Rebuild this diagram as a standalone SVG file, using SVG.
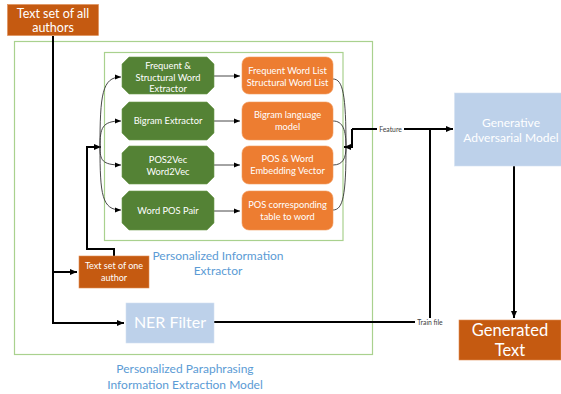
<svg xmlns="http://www.w3.org/2000/svg" width="561" height="394" viewBox="0 0 561 394">
<defs>
<marker id="ah" markerWidth="8" markerHeight="8" refX="7" refY="4" orient="auto" markerUnits="userSpaceOnUse"><path d="M0,1 L7,4 L0,7 z" fill="#000"/></marker>
<marker id="ahs" markerWidth="7" markerHeight="6" refX="6" refY="3" orient="auto" markerUnits="userSpaceOnUse"><path d="M0,0.5 L6,3 L0,5.5 z" fill="#000"/></marker>
<style>
.frame{fill:none;stroke:#A9D18E;stroke-width:1.2}
.g{fill:#548235;stroke:#6d9a4c;stroke-width:0.6}
.o{fill:#ED7D31;stroke:#f29a5c;stroke-width:0.6}
.d{fill:#C55A11;stroke:#e08c54;stroke-width:0.6}
.b{fill:#BDD1EA;stroke:#d4e2f2;stroke-width:0.6}
text{font-family:Lato,"Liberation Sans",sans-serif;text-anchor:middle;fill:#fff}
.t9{font-size:9.3px}
.lbl{fill:#5B9BD5;font-size:12px}
.small{fill:#404040;font-size:6.8px}
.thick{fill:none;stroke:#000;stroke-width:2}
.thin{fill:none;stroke:#333;stroke-width:0.9}
</style>
</defs>
<rect class="frame" x="14.5" y="41.5" width="358" height="313"/>
<rect class="frame" x="104.5" y="52.5" width="238.5" height="188"/>
<g id="connectors">
<path class="thick" d="M53,36 V323 H124" marker-end="url(#ah)"/>
<path class="thick" d="M53,272 H77" marker-end="url(#ah)"/>
<path class="thick" d="M114,256 V249 H87 V147 H101" marker-end="url(#ah)"/>
<path class="thin" d="M100,147 C100,95 102,77 121,77" marker-end="url(#ahs)"/>
<path class="thin" d="M100,147 C100,128 102,121 121,121" marker-end="url(#ahs)"/>
<path class="thin" d="M100,147 C100,160 102,165 121,165" marker-end="url(#ahs)"/>
<path class="thin" d="M100,147 C100,195 102,210 121,210" marker-end="url(#ahs)"/>
<path class="thin" d="M214,76 H240" marker-end="url(#ahs)"/>
<path class="thin" d="M214,121 H240" marker-end="url(#ahs)"/>
<path class="thin" d="M214,165 H240" marker-end="url(#ahs)"/>
<path class="thin" d="M214,211 H240" marker-end="url(#ahs)"/>
<path class="thin" d="M333,79 C343,79 346,95 346,147"/>
<path class="thin" d="M333,121 C343,121 346,130 346,147"/>
<path class="thin" d="M333,165 C343,165 346,158 346,147"/>
<path class="thin" d="M333,210 C343,210 346,195 346,147"/>
<path class="thick" d="M352,129 H453" marker-end="url(#ah)"/>
<path class="thick" d="M352,129 V147 H344" marker-end="url(#ah)"/>
<path class="thick" d="M214,322 H430 V129"/>
<path class="thick" d="M514,166 V318" marker-end="url(#ah)"/>
<rect x="377" y="125" width="27" height="8" fill="#fff"/>
<text class="small" x="390.5" y="131.5">Feature</text>
<rect x="415" y="318" width="30" height="8" fill="#fff"/>
<text class="small" x="430" y="324.5">Train file</text>
</g>
<g id="all-authors"><rect class="d" x="7.5" y="4.5" width="91" height="31"/>
<text x="53" y="18" font-size="12.5px">Text set of all</text><text x="53" y="32" font-size="12.5px">authors</text></g>
<g id="g1"><polygon class="g" points="129,57 207,57 214,64 214,87 207,94 129,94 122,87 122,64"/>
<text class="t9" x="168" y="69">Frequent &amp;</text><text class="t9" x="168" y="80.5">Structural Word</text><text class="t9" x="168" y="92">Extractor</text></g>
<g id="g2"><polygon class="g" points="129,102 207,102 214,109 214,133 207,140 129,140 122,133 122,109"/>
<text class="t9" x="168" y="124">Bigram Extractor</text></g>
<g id="g3"><polygon class="g" points="129,146 207,146 214,153 214,177 207,184 129,184 122,177 122,153"/>
<text class="t9" x="168" y="163">POS2Vec</text><text class="t9" x="168" y="175">Word2Vec</text></g>
<g id="g4"><polygon class="g" points="129,191 207,191 214,198 214,223 207,230 129,230 122,223 122,198"/>
<text class="t9" x="168" y="214">Word POS Pair</text></g>
<g id="o1"><rect class="o" x="242" y="57" width="91" height="37" rx="7"/>
<text class="t9" x="287.5" y="74">Frequent Word List</text><text class="t9" x="287.5" y="85.5">Structural Word List</text></g>
<g id="o2"><rect class="o" x="242" y="102" width="91" height="38" rx="7"/>
<text class="t9" x="287.5" y="118">Bigram language</text><text class="t9" x="287.5" y="130">model</text></g>
<g id="o3"><rect class="o" x="242" y="146" width="91" height="38" rx="7"/>
<text class="t9" x="287.5" y="162">POS &amp; Word</text><text class="t9" x="287.5" y="174">Embedding Vector</text></g>
<g id="o4"><rect class="o" x="242" y="191" width="91" height="39" rx="7"/>
<text class="t9" x="287.5" y="208">POS corresponding</text><text class="t9" x="287.5" y="220">table to word</text></g>
<g id="one-author"><rect class="d" x="79" y="256" width="70" height="32"/>
<text x="114" y="269" font-size="9px">Text set of one</text><text x="114" y="281" font-size="9px">author</text></g>
<g id="ner"><rect class="b" x="126" y="303" width="88" height="40"/>
<text x="170" y="328" font-size="16px">NER Filter</text></g>
<g id="gan"><rect class="b" x="454.5" y="93" width="107" height="73"/>
<text x="511" y="127" font-size="12px">Generative</text><text x="511" y="142" font-size="12px">Adversarial Model</text></g>
<g id="generated"><rect class="d" x="459" y="320" width="102" height="40"/>
<text x="510" y="336" font-size="16.5px">Generated</text><text x="510" y="356" font-size="16.5px">Text</text></g>
<text class="lbl" x="218" y="260">Personalized Information</text>
<text class="lbl" x="218" y="275">Extractor</text>
<text class="lbl" x="185" y="373">Personalized Paraphrasing</text>
<text class="lbl" x="185" y="389">Information Extraction Model</text>
</svg>
